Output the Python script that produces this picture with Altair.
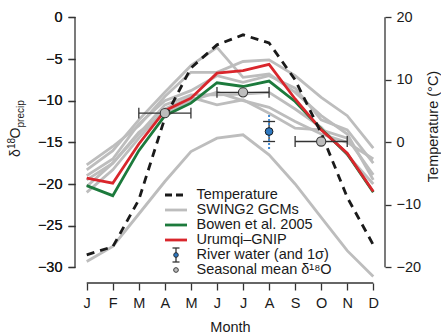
import json
import altair as alt
import pandas as pd

# ---------------- data ----------------
months = ["J", "F", "M", "A", "M", "J", "J", "A", "S", "O", "N", "D"]
month_num = list(range(1, 13))

temperature = [-18.0, -16.7, -9.2, 3.9, 11.9, 15.6, 17.2, 15.9, 10.0, 1.5, -8.8, -16.4]
urumqi_gnip = [-19.3, -19.9, -15.2, -11.2, -9.7, -6.7, -6.4, -5.65, -9.8, -13.5, -16.3, -20.9]
bowen_2005 = [-20.2, -21.4, -16.0, -11.8, -10.3, -7.85, -8.3, -7.65, -10.1, -13.4, -16.4, -21.0]

gcm_1 = [-18.3, -16.0, -12.3, -9.0, -5.8, -3.6, -7.2, -6.8, -9.0, -11.8, -14.0, -19.5]
gcm_2 = [-17.7, -15.5, -13.0, -9.5, -6.6, -6.6, -5.3, -5.1, -7.0, -9.6, -11.8, -15.7]
gcm_3 = [-19.0, -17.0, -12.8, -10.0, -8.8, -7.0, -7.8, -7.0, -8.5, -12.3, -13.5, -17.5]
gcm_4 = [-20.3, -17.5, -14.0, -10.5, -9.3, -9.3, -9.2, -9.0, -11.0, -13.2, -16.5, -20.0]
gcm_5 = [-21.0, -18.3, -14.5, -11.0, -9.6, -10.5, -9.9, -11.5, -13.3, -13.5, -14.5, -18.9]
gcm_6 = [-19.5, -17.5, -13.8, -11.5, -10.0, -9.0, -10.0, -10.8, -12.5, -14.0, -15.0, -17.0]
gcm_7 = [-29.3, -27.5, -23.6, -19.7, -16.1, -14.5, -14.1, -16.5, -20.0, -24.0, -28.0, -31.1]
gcm_runs = [gcm_1, gcm_2, gcm_3, gcm_4, gcm_5, gcm_6, gcm_7]

seasonal_month = [4, 7, 10]
seasonal_lo = [3, 6, 9]
seasonal_hi = [5, 8, 11]
seasonal_mean = [-11.5, -9.0, -14.9]

river_month = [8]
river_mean = [-13.7]
river_sd = [1.2]
river_range = [2.1]

left_ticks = [-30, -25, -20, -15, -10, -5, 0]
right_ticks = [-20, -10, 0, 10, 20]

legend_labels = ["Temperature", "SWING2 GCMs", "Bowen et al. 2005", "Urumqi\u2013GNIP",
                 "River water (and 1\u03c3)", "Seasonal mean \u03b4\u00b9\u2078O"]

# ---------------- style / layout ----------------
FONT = "Liberation Sans"
FS = 14.5
W, H = 310, 270
PAD = {"left": 75, "top": 7, "right": 441 - 75 - W, "bottom": 335 - 7 - H}
Y_DOM = [-31.16, 1.24]
T_DOM = [20 + Y_DOM[0] * 4 / 3, 20 + Y_DOM[1] * 4 / 3]
AX = "#333333"
TXT = "#1a1a1a"
GRAY = "#bdbdbd"
RED = "#d9262c"
GREEN = "#1c7a3c"
BLUE = "#2f78c0"
BLUE_DOT = "#3d88d2"

xscale = alt.Scale(domain=[0.55, 12.45], nice=False, zero=False)
yscale = alt.Scale(domain=Y_DOM, nice=False, zero=False)
tscale = alt.Scale(domain=T_DOM, nice=False, zero=False)

label_expr = f"{json.dumps(months)}[datum.value - 1]"
x_axis = alt.Axis(values=month_num, labelExpr=label_expr, domain=False, grid=False,
                  tickSize=7, tickWidth=1.3, tickColor=AX, offset=6,
                  labelFont=FONT, labelFontSize=FS, labelColor=TXT, labelPadding=6,
                  title="Month", titleFont=FONT, titleFontSize=FS, titleFontWeight="normal",
                  titleColor=TXT, titleY=48, titleBaseline="alphabetic")
y_axis = alt.Axis(values=left_ticks, domain=False, grid=False, tickSize=7, tickWidth=1.3,
                  tickColor=AX, labelFont=FONT, labelFontSize=FS, labelColor=TXT,
                  labelPadding=6, title=None)
t_axis = alt.Axis(values=right_ticks, orient="right", domain=False, grid=False, tickSize=6,
                  tickWidth=1.3, tickColor=AX, labelFont=FONT, labelFontSize=FS,
                  labelColor=TXT, labelPadding=5, title="Temperature (\u00b0C)",
                  titleFont=FONT, titleFontSize=FS, titleFontWeight="normal", titleColor=TXT,
                  titleAngle=270, titleAlign="center", titleBaseline="middle",
                  titleX=48, titleY=119)

X = lambda f: alt.X(f, type="quantitative", scale=xscale, axis=x_axis)
Y = lambda f: alt.Y(f, type="quantitative", scale=yscale, axis=y_axis)

# ---------------- tables ----------------
gcm_df = pd.DataFrame([{"run": i, "m": m, "d": v}
                       for i, vals in enumerate(gcm_runs) for m, v in zip(month_num, vals)])
main_df = pd.DataFrame({"m": month_num, "temp": temperature,
                        "gnip": urumqi_gnip, "bowen": bowen_2005})
seas_df = pd.DataFrame({"m": seasonal_month, "lo": seasonal_lo, "hi": seasonal_hi,
                        "d": seasonal_mean})
CAP = 0.65  # half cap height in permil
seas_df["c0"] = seas_df["d"] - CAP
seas_df["c1"] = seas_df["d"] + CAP
riv_df = pd.DataFrame({"m": river_month, "d": river_mean, "sd": river_sd, "rg": river_range})
riv_df["s0"] = riv_df["d"] - riv_df["sd"]
riv_df["s1"] = riv_df["d"] + riv_df["sd"]
riv_df["r0"] = riv_df["d"] - riv_df["rg"]
riv_df["r1"] = riv_df["d"] + riv_df["rg"]
riv_df["x0"] = riv_df["m"] - 0.23
riv_df["x1"] = riv_df["m"] + 0.23
xline_df = pd.DataFrame({"a": [month_num[0]], "b": [month_num[-1]]})
yline_df = pd.DataFrame({"a": [left_ticks[0]], "b": [left_ticks[-1]]})
tline_df = pd.DataFrame({"a": [right_ticks[0]], "b": [right_ticks[-1]]})

# ---------------- layers ----------------
gray = alt.Chart(gcm_df).mark_line(color=GRAY, strokeWidth=2.8, strokeJoin="miter").encode(
    x=X("m"), y=Y("d"), detail="run:N")
green = alt.Chart(main_df).mark_line(color=GREEN, strokeWidth=2.8).encode(x=X("m"), y=Y("bowen"))
red = alt.Chart(main_df).mark_line(color=RED, strokeWidth=2.8).encode(x=X("m"), y=Y("gnip"))

seas_bar = alt.Chart(seas_df).mark_rule(color=AX, strokeWidth=1.3).encode(
    x=X("lo"), x2="hi", y=Y("d"))
seas_cap_lo = alt.Chart(seas_df).mark_rule(color=AX, strokeWidth=1.3).encode(
    x=X("lo"), y=Y("c0"), y2="c1")
seas_cap_hi = alt.Chart(seas_df).mark_rule(color=AX, strokeWidth=1.3).encode(
    x=X("hi"), y=Y("c0"), y2="c1")
seas_pt = alt.Chart(seas_df).mark_point(filled=True, fill="#bdbdbd", stroke="#3a3a3a",
                                        strokeWidth=1.1, size=85, opacity=1).encode(
    x=X("m"), y=Y("d"))

riv_bar = alt.Chart(riv_df).mark_rule(color=AX, strokeWidth=1.3).encode(
    x=X("m"), y=Y("s0"), y2="s1")
riv_cap0 = alt.Chart(riv_df).mark_rule(color=AX, strokeWidth=1.3).encode(
    x=X("x0"), x2="x1", y=Y("s0"))
riv_cap1 = alt.Chart(riv_df).mark_rule(color=AX, strokeWidth=1.3).encode(
    x=X("x0"), x2="x1", y=Y("s1"))
riv_rng = alt.Chart(riv_df).mark_rule(color=BLUE_DOT, strokeWidth=2, strokeDash=[2, 2]).encode(
    x=X("m"), y=Y("r0"), y2="r1")
riv_pt = alt.Chart(riv_df).mark_point(filled=True, fill=BLUE, stroke="#1a1a1a",
                                      strokeWidth=1, size=60, opacity=1).encode(
    x=X("m"), y=Y("d"))

x_line = alt.Chart(xline_df).mark_rule(color=AX, strokeWidth=1.3).encode(
    x=X("a"), x2="b", y=alt.value(H + 6))
y_line = alt.Chart(yline_df).mark_rule(color=AX, strokeWidth=1.3).encode(
    x=alt.value(0), y=Y("a"), y2="b")

# y title (rich text: delta, superscript 18, O, subscript precip), reading bottom to top
one = pd.DataFrame({"k": [0]})
title_parts = [("\u03b4", 14, 19.5, 157), ("18", 10, 14.5, 149), ("O", 14, 19.5, 138.5),
               ("precip", 10, 23.5, 127.5)]
ytitle_layers = [
    alt.Chart(one).mark_text(text=t, font=FONT, fontSize=fs, angle=270, align="left",
                             baseline="alphabetic", color=TXT).encode(
        x=alt.value(bx - PAD["left"]), y=alt.value(by - PAD["top"]))
    for t, fs, bx, by in title_parts
]

# legend
legend_layers = []
sym_x0, sym_x1, sym_xc, text_x = 90, 112, 101, 121.5
row_y = [188 + 15 * i for i in range(len(legend_labels))]
line_styles = [("#1a1a1a", [7, 4]), (GRAY, None), (GREEN, None), (RED, None)]
for i, (col, dash) in enumerate(line_styles):
    kw = dict(color=col, strokeWidth=2.8)
    if dash:
        kw["strokeDash"] = dash
    legend_layers.append(alt.Chart(one).mark_rule(**kw).encode(
        x=alt.value(sym_x0), x2=alt.value(sym_x1), y=alt.value(row_y[i])))
ry = row_y[4]
legend_layers.append(alt.Chart(one).mark_rule(color=AX, strokeWidth=1.3).encode(
    x=alt.value(sym_xc), y=alt.value(ry - 7), y2=alt.value(ry + 7)))
for dy in (-7, 7):
    legend_layers.append(alt.Chart(one).mark_rule(color=AX, strokeWidth=1.3).encode(
        x=alt.value(sym_xc - 3.5), x2=alt.value(sym_xc + 3.5), y=alt.value(ry + dy)))
legend_layers.append(alt.Chart(one).mark_point(filled=True, fill=BLUE, stroke="#1a1a1a",
                                               strokeWidth=0.8, size=22, opacity=1).encode(
    x=alt.value(sym_xc), y=alt.value(ry)))
legend_layers.append(alt.Chart(one).mark_point(filled=True, fill="#bdbdbd", stroke="#3a3a3a",
                                               strokeWidth=1, size=22, opacity=1).encode(
    x=alt.value(sym_xc), y=alt.value(row_y[5])))
for i, lab in enumerate(legend_labels):
    legend_layers.append(alt.Chart(one).mark_text(text=lab, font=FONT, fontSize=FS, align="left",
                                                  baseline="middle", color=TXT).encode(
        x=alt.value(text_x), y=alt.value(row_y[i])))

# temperature (right axis)
temp_line = alt.Chart(main_df).mark_line(color="#1a1a1a", strokeWidth=2.8,
                                         strokeDash=[8, 6]).encode(
    x=X("m"), y=alt.Y("temp:Q", scale=tscale, axis=t_axis))
t_line = alt.Chart(tline_df).mark_rule(color=AX, strokeWidth=1.3).encode(
    x=alt.value(W), y=alt.Y("a:Q", scale=tscale, axis=t_axis), y2="b")

left_group = alt.layer(gray, green, red, x_line, y_line, *ytitle_layers, *legend_layers)
top_group = alt.layer(seas_bar, seas_cap_lo, seas_cap_hi, seas_pt, riv_bar, riv_cap0, riv_cap1,
                      riv_rng, riv_pt)
right_group = alt.layer(temp_line, t_line)

chart = alt.layer(left_group, right_group, top_group).resolve_scale(y="independent").properties(
    width=W, height=H, padding=PAD, autosize=alt.AutoSizeParams(type="none"),
    background="white").configure_view(stroke=None)

chart.save("out.html", embed_options={"renderer": "svg", "actions": False})
